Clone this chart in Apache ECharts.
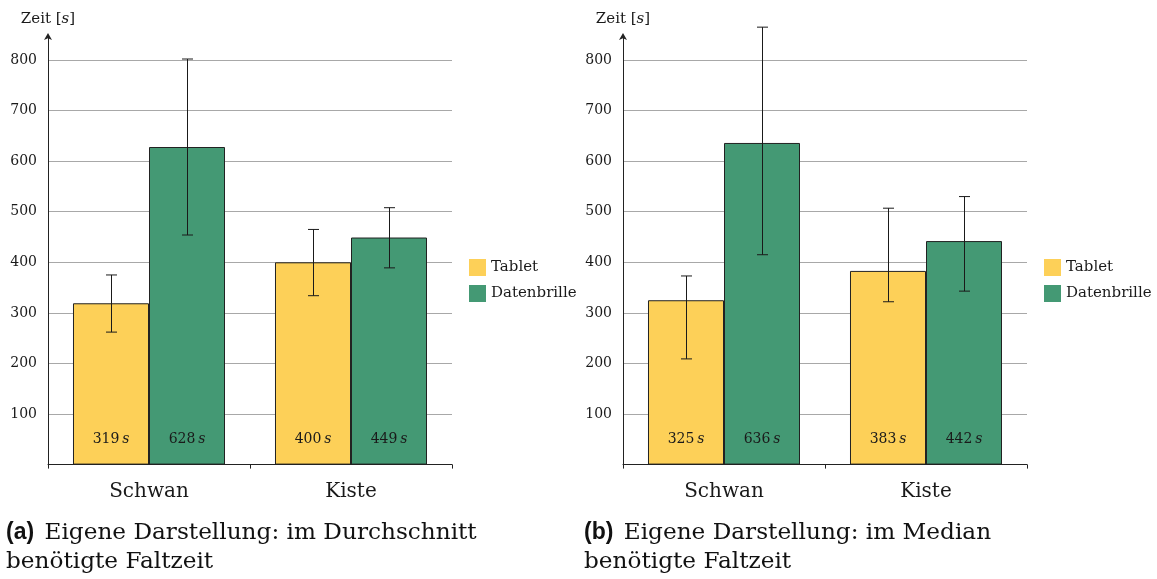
<!DOCTYPE html>
<html><head><meta charset="utf-8">
<script src="https://cdn.jsdelivr.net/npm/echarts@6/dist/echarts.min.js"></script>
<style>html,body{margin:0;padding:0;background:#fff}#c{width:1157px;height:579px}</style>
</head><body><div id="c"></div>
<script>
const categories = ['Schwan', 'Kiste'];
const yTicks = [100, 200, 300, 400, 500, 600, 700, 800];
// (a) mean
const meanTablet = [319, 400];
const meanBrille = [628, 449];
const meanTabletLow = [262, 334];
const meanTabletHigh = [375, 465];
const meanBrilleLow = [454, 389];
const meanBrilleHigh = [802, 508];
// (b) median
const medTablet = [325, 383];
const medBrille = [636, 442];
const medTabletLow = [209, 322];
const medTabletHigh = [373, 507];
const medBrilleLow = [415, 343];
const medBrilleHigh = [865, 530];

const SERIF = '"DejaVu Serif", "Liberation Serif", serif';
const YELLOW = '#FDD058';
const GREEN = '#449974';
const GAP = 0.2475;

const chart = echarts.init(document.getElementById('c'), null, {renderer: 'canvas'});

function errData(lowT, highT, lowB, highB) {
  const d = [];
  categories.forEach((c, i) => {
    d.push([i, lowT[i], highT[i], 0]);
    d.push([i, lowB[i], highB[i], 1]);
  });
  return d;
}
function renderErr(params, api) {
  const x = api.value(0), lo = api.value(1), hi = api.value(2), k = api.value(3);
  const band = api.size([1, 0])[0];
  const bw = band * (1 - GAP) / 2;
  const off = k === 0 ? -bw / 2 : bw / 2;
  const pLo = api.coord([x, lo]);
  const pHi = api.coord([x, hi]);
  const cx = Math.round(pLo[0] + off) + 0.5;
  const cap = 5.5;
  const st = {stroke: '#1a1a1a', lineWidth: 1};
  return {type: 'group', children: [
    {type: 'line', shape: {x1: cx, y1: pLo[1], x2: cx, y2: pHi[1]}, style: st},
    {type: 'line', shape: {x1: cx - cap, y1: pHi[1], x2: cx + cap, y2: pHi[1]}, style: st},
    {type: 'line', shape: {x1: cx - cap, y1: pLo[1], x2: cx + cap, y2: pLo[1]}, style: st}
  ]};
}
const labelOpt = {
  show: true, position: 'insideBottom', distance: 18,
  formatter: p => '{n|' + p.value + '\u2009}{i|s}',
  rich: {
    n: {fontFamily: SERIF, fontSize: 14, color: '#1a1a1a'},
    i: {fontFamily: SERIF, fontSize: 14, fontStyle: 'italic', color: '#1a1a1a'}
  }
};
function barSeries(name, data, color, idx) {
  return {
    type: 'bar', name: name, data: data, xAxisIndex: idx, yAxisIndex: idx,
    barGap: '0%', barCategoryGap: (GAP * 100) + '%',
    itemStyle: {color: color, borderColor: '#222', borderWidth: 1},
    label: labelOpt, animation: false, z: 2
  };
}
function xAxis(idx) {
  return {
    type: 'category', gridIndex: idx, data: categories,
    axisLine: {lineStyle: {color: '#222', width: 1}},
    axisTick: {show: true, length: 4, lineStyle: {color: '#222'}},
    axisLabel: {fontFamily: SERIF, fontSize: 20, color: '#1a1a1a', margin: 17},
    splitLine: {show: false}
  };
}
function yAxis(idx) {
  return {
    type: 'value', gridIndex: idx, min: 0, max: 847.5, interval: 100,
    name: '{n|Zeit }{n|[}{i|s}{n|]}', nameLocation: 'end', nameGap: 9,
    nameTextStyle: {rich: {
      n: {fontFamily: SERIF, fontSize: 15, color: '#1a1a1a'},
      i: {fontFamily: SERIF, fontSize: 15, fontStyle: 'italic', color: '#1a1a1a'}
    }},
    axisLine: {show: true, symbol: ['none', 'arrow'], symbolSize: [6, 7], symbolOffset: [0, 3],
      lineStyle: {color: '#222', width: 1}},
    axisTick: {show: false},
    axisLabel: {fontFamily: SERIF, fontSize: 14, color: '#1a1a1a', margin: 11,
      formatter: v => (yTicks.indexOf(v) >= 0 ? String(v) : '')},
    splitLine: {show: true, showMinLine: false, showMaxLine: false, lineStyle: {color: '#a8a8a8', width: 1}}
  };
}
function legend(left) {
  return {
    data: ['Tablet', 'Datenbrille'], orient: 'vertical', left: left, top: 254,
    itemWidth: 17, itemHeight: 17, itemGap: 9, icon: 'rect',
    itemStyle: {borderWidth: 0},
    textStyle: {fontFamily: SERIF, fontSize: 15, color: '#1a1a1a', padding: [0, 0, 0, 0]},
    selectedMode: false
  };
}
function caption(left, letter, line1) {
  return {
    left: left, top: 518, padding: 0,
    text: '{b|(' + letter + ')}{r1| ' + line1 + '}\n{r|benötigte Faltzeit}',
    textStyle: {fontWeight: 'normal', rich: {
      b: {fontFamily: '"Liberation Sans", Arial, sans-serif', fontWeight: 'bold', fontSize: 23, color: '#111', lineHeight: 29},
      r1: {fontFamily: SERIF, fontWeight: 'normal', fontSize: 23.2, color: '#111', lineHeight: 29, padding: [0, 0, 0, 3]},
      r: {fontFamily: SERIF, fontWeight: 'normal', fontSize: 23.2, color: '#111', lineHeight: 29}
    }}
  };
}

chart.setOption({
  animation: false,
  backgroundColor: '#fff',
  title: [caption(6, 'a', 'Eigene Darstellung: im Durchschnitt'), caption(584, 'b', 'Eigene Darstellung: im Median')],
  legend: [legend(464), legend(1039)],
  grid: [
    {left: 48, width: 404, top: 36, height: 428.6},
    {left: 623, width: 404, top: 36, height: 428.6}
  ],
  xAxis: [xAxis(0), xAxis(1)],
  yAxis: [yAxis(0), yAxis(1)],
  series: [
    barSeries('Tablet', meanTablet, YELLOW, 0),
    barSeries('Datenbrille', meanBrille, GREEN, 0),
    barSeries('Tablet', medTablet, YELLOW, 1),
    barSeries('Datenbrille', medBrille, GREEN, 1),
    {type: 'custom', name: 'errA', xAxisIndex: 0, yAxisIndex: 0, renderItem: renderErr,
      data: errData(meanTabletLow, meanTabletHigh, meanBrilleLow, meanBrilleHigh), z: 5, clip: false,
      encode: {x: 0, y: [1, 2]}},
    {type: 'custom', name: 'errB', xAxisIndex: 1, yAxisIndex: 1, renderItem: renderErr,
      data: errData(medTabletLow, medTabletHigh, medBrilleLow, medBrilleHigh), z: 5, clip: false,
      encode: {x: 0, y: [1, 2]}}
  ]
});
</script></body></html>
